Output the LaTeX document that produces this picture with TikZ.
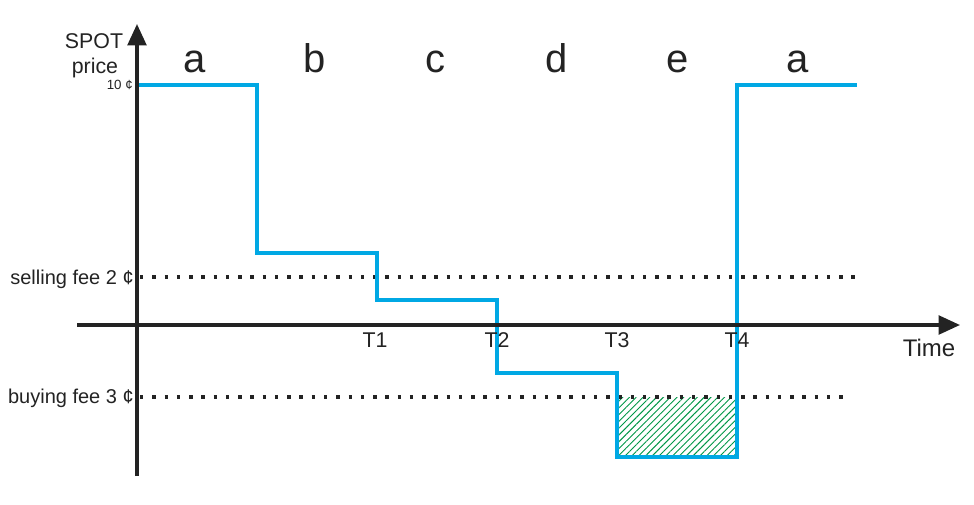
\documentclass[tikz,border=0pt]{standalone}
\usepackage{fontspec}
\setmainfont{Liberation Sans}
\usetikzlibrary{arrows.meta,patterns.meta}
\definecolor{spotblue}{RGB}{0,168,228}
\definecolor{hatchgreen}{RGB}{0,150,70}
\definecolor{axisgray}{RGB}{35,35,35}
\tikzset{
  axisline/.style={line width=2.5pt, draw=axisgray, -{Triangle[length=16pt,width=14pt]}},
  feeline/.style={line width=2.6pt, draw=axisgray, dash pattern=on 2.6pt off 6.6pt},
  priceline/.style={line width=3.6pt, draw=spotblue},
  zone/.style={anchor=base, font=\fontsize{30}{32}\selectfont, text=axisgray},
  lbl/.style={anchor=base, font=\fontsize{15}{17}\selectfont, text=axisgray, inner sep=0pt}
}
\begin{document}
\begin{tikzpicture}[x=0.75pt,y=-0.75pt]
\useasboundingbox (0,0) rectangle (974,504);
% saving below the buying fee
\fill[pattern={Lines[angle=45,distance=3.6pt,line width=0.7pt]}, pattern color=hatchgreen] (617,397) rectangle (737,457);
% fee levels
\draw[feeline] (140,277) -- (855,277);
\draw[feeline] (140,397) -- (845,397);
% spot price
\draw[priceline] (137,85) -- (257,85) -- (257,253) -- (377,253) -- (377,300) -- (497,300)
  -- (497,373) -- (617,373) -- (617,457) -- (737,457) -- (737,85) -- (857,85);
% axes
\coordinate (origin) at (137,325);
\coordinate (ybot) at (137,476);
\coordinate (ytop) at (137,24);
\coordinate (xleft) at (77,325);
\coordinate (xright) at (960,325);
\draw[axisline] (ybot) -- (ytop);
\draw[axisline] (xleft) -- (xright);
% labels
\node[lbl, font=\fontsize{16}{18}\selectfont] (spot) at (94,48) {SPOT};
\node[lbl, font=\fontsize{16}{18}\selectfont] (price) at (95,73) {price};
\node[lbl, anchor=base east, font=\fontsize{10}{11}\selectfont] (ten) at (133,89) {10 ¢};
\node[lbl, anchor=base east] (sell) at (134,284) {selling fee 2 ¢};
\node[lbl, anchor=base east] (buy) at (134,403) {buying fee 3 ¢};
\node[lbl, font=\fontsize{16}{18}\selectfont] (t1) at (375,347) {T1};
\node[lbl, font=\fontsize{16}{18}\selectfont] (t2) at (497,347) {T2};
\node[lbl, font=\fontsize{16}{18}\selectfont] (t3) at (617,347) {T3};
\node[lbl, font=\fontsize{16}{18}\selectfont] (t4) at (737,347) {T4};
\node[lbl, font=\fontsize{18}{20}\selectfont] (time) at (929,356) {Time};
\node[zone] (za) at (195,72) {a};
\node[zone] (zb) at (315,72) {b};
\node[zone] (zc) at (435,72) {c};
\node[zone] (zd) at (557,72) {d};
\node[zone] (ze) at (678,72) {e};
\node[zone] (zf) at (798,72) {a};
\end{tikzpicture}
\end{document}
